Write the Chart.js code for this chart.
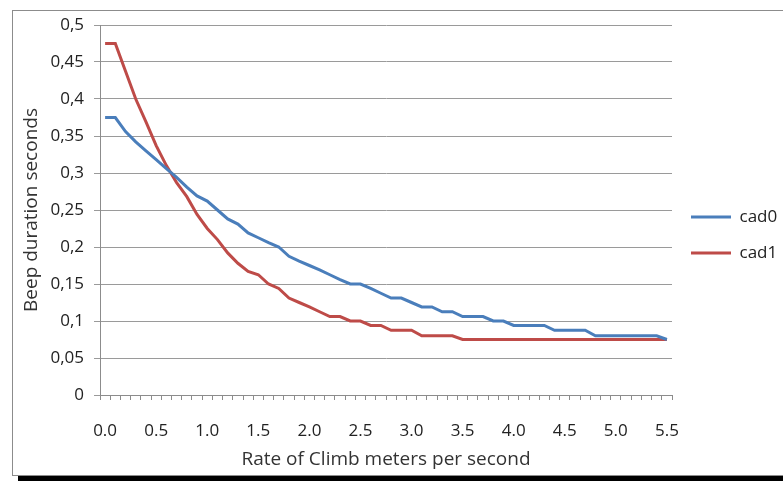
<!DOCTYPE html>
<html>
<head>
<meta charset="utf-8">
<script src="https://cdn.jsdelivr.net/npm/chart.js@4.4.0/dist/chart.umd.min.js"></script>
<style>
body{margin:0;background:#fff;}
#frame{position:absolute;left:12px;top:10px;width:800px;height:464px;border:1px solid #8c8c8c;box-shadow:6px 6px 0 #000;background:#fff;}
#c{position:absolute;left:0;top:0;}
</style>
</head>
<body>
<div id="frame"></div>
<canvas id="c" width="783" height="481"></canvas>
<script>
// rate of climb, m/s
const rates=["0.0","0.1","0.2","0.3","0.4","0.5","0.6","0.7","0.8","0.9",
"1.0","1.1","1.2","1.3","1.4","1.5","1.6","1.7","1.8","1.9",
"2.0","2.1","2.2","2.3","2.4","2.5","2.6","2.7","2.8","2.9",
"3.0","3.1","3.2","3.3","3.4","3.5","3.6","3.7","3.8","3.9",
"4.0","4.1","4.2","4.3","4.4","4.5","4.6","4.7","4.8","4.9",
"5.0","5.1","5.2","5.3","5.4","5.5"];

const cad0=[0.375,0.375,0.356,0.342,0.33,0.318,0.306,0.294,0.281,0.269,
0.262,0.25,0.238,0.231,0.219,0.2125,0.206,0.2,0.1875,0.181,
0.175,0.169,0.1625,0.156,0.15,0.15,0.144,0.1375,0.131,0.131,
0.125,0.119,0.119,0.1125,0.1125,0.106,0.106,0.106,0.1,0.1,
0.094,0.094,0.094,0.094,0.0875,0.0875,0.0875,0.0875,0.08,0.08,
0.08,0.08,0.08,0.08,0.08,0.075];

const cad1=[0.475,0.475,0.4375,0.4,0.369,0.337,0.31,0.287,0.268,0.244,
0.225,0.21,0.192,0.178,0.167,0.1625,0.15,0.144,0.131,0.125,
0.119,0.1125,0.106,0.106,0.1,0.1,0.094,0.094,0.0875,0.0875,
0.0875,0.08,0.08,0.08,0.08,0.075,0.075,0.075,0.075,0.075,
0.075,0.075,0.075,0.075,0.075,0.075,0.075,0.075,0.075,0.075,
0.075,0.075,0.075,0.075,0.075,0.075];

const FONT="'Open Sans', sans-serif";

// nudge the legend up a bit, like the original
const legendShift={
id:"legendShift",
afterLayout(chart){
chart.legend.top-=13;
chart.legend.bottom-=13;
}
};

new Chart(document.getElementById("c"),{
type:"line",
data:{
labels:rates,
datasets:[
{label:"cad0",data:cad0,borderColor:"#4a7ebb",backgroundColor:"#4a7ebb",borderWidth:3,pointRadius:0,tension:0},
{label:"cad1",data:cad1,borderColor:"#be4b48",backgroundColor:"#be4b48",borderWidth:3,pointRadius:0,tension:0}
]
},
plugins:[legendShift],
options:{
responsive:false,
animation:false,
layout:{padding:{left:16,top:25,right:0,bottom:10}},
plugins:{
tooltip:{enabled:false},
legend:{
position:"right",
maxWidth:111,
labels:{
usePointStyle:true,pointStyle:"line",pointStyleWidth:40,
color:"#222",padding:19,
font:{family:FONT,size:17}
}
}
},
scales:{
x:{
offset:true,
grid:{offset:true,drawOnChartArea:false,color:"#8c8c8c",tickLength:5},
border:{color:"#8c8c8c"},
ticks:{
autoSkip:false,maxRotation:0,padding:21,color:"#222",
font:{family:FONT,size:17},
callback:(v,i)=>i%5===0?rates[i]:""
},
title:{display:true,text:"Rate of Climb meters per second",color:"#333",font:{family:FONT,size:19},padding:{top:2,bottom:0}},
afterFit:s=>{s.height=76;}
},
y:{
min:0,max:0.5,
grid:{color:"#9a9a9a",tickLength:6},
border:{color:"#8c8c8c"},
ticks:{
stepSize:0.05,padding:10,color:"#222",
font:{family:FONT,size:17},
callback:v=>String(+v.toFixed(2)).replace(".",",")
},
title:{display:true,text:"Beep duration seconds",color:"#333",font:{family:FONT,size:19}},
afterFit:s=>{s.width=84;}
}
}
}
});
</script>
</body>
</html>
